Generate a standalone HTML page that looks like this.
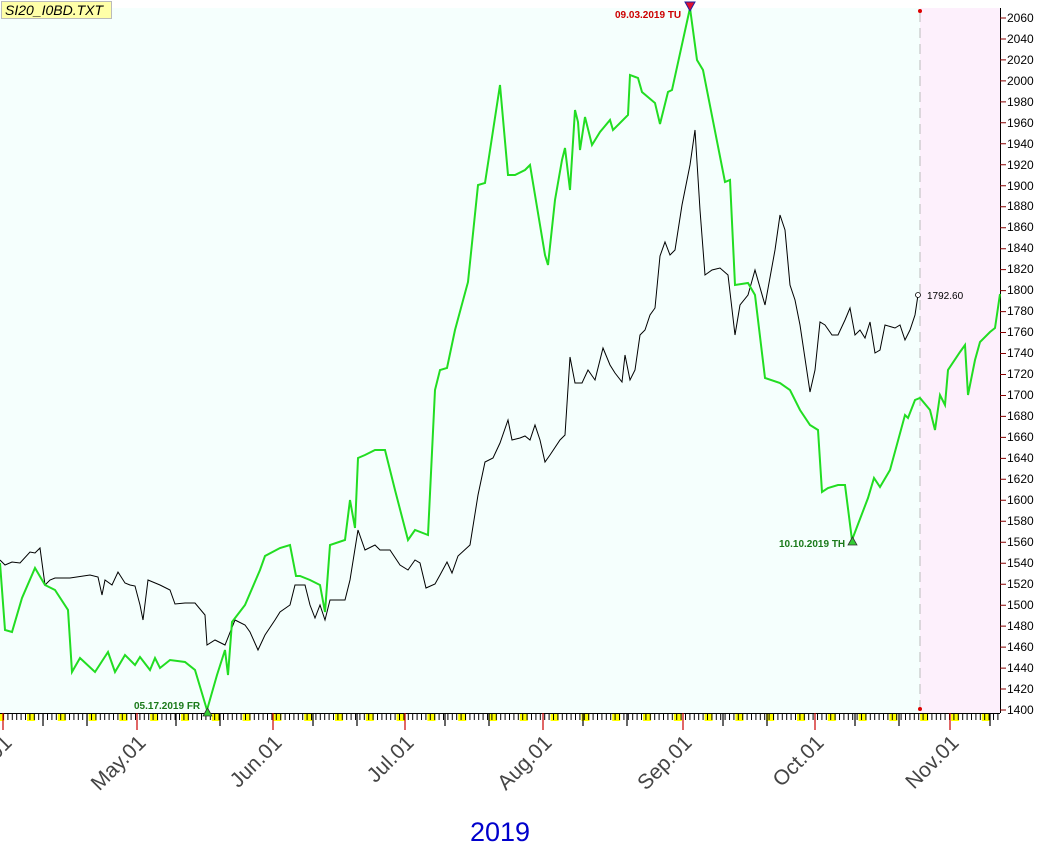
<!DOCTYPE html>
<html><head><style>body{margin:0;background:#fff}svg{display:block}</style></head><body>
<svg width="1063" height="849" xmlns="http://www.w3.org/2000/svg" font-family="Liberation Sans, sans-serif">
<defs>
<pattern id="dt" x="3" y="713" width="4.4" height="10" patternUnits="userSpaceOnUse"><line x1="0.5" y1="0" x2="0.5" y2="7" stroke="#000" stroke-width="1"/></pattern>
<pattern id="we" x="27" y="713" width="30.8" height="10" patternUnits="userSpaceOnUse"><rect x="0" y="1" width="8" height="7" fill="#ffff00"/></pattern>
</defs>
<rect x="0" y="8" width="920" height="705" fill="#f5fffd"/>
<rect x="920" y="8" width="80" height="705" fill="#fdf0fc"/>
<line x1="920" y1="12" x2="920" y2="710" stroke="#bbb" stroke-dasharray="10,6"/>
<circle cx="920" cy="11" r="2" fill="#d00"/><circle cx="920" cy="709" r="2" fill="#d00"/>
<rect x="0" y="713" width="1000" height="8" fill="url(#we)"/>
<rect x="0" y="713" width="1000" height="8" fill="url(#dt)"/>
<line x1="0" y1="713.5" x2="1000" y2="713.5" stroke="#000"/>
<g stroke="#c00" stroke-width="1.2">
<line x1="3" y1="713" x2="3" y2="730"/><line x1="137" y1="713" x2="137" y2="730"/><line x1="273" y1="713" x2="273" y2="730"/><line x1="405" y1="713" x2="405" y2="730"/><line x1="543" y1="713" x2="543" y2="730"/><line x1="683" y1="713" x2="683" y2="730"/><line x1="815" y1="713" x2="815" y2="730"/><line x1="950" y1="713" x2="950" y2="730"/></g>
<g stroke="#000" stroke-width="1.2">
<line x1="43" y1="713" x2="43" y2="726"/><line x1="87" y1="713" x2="87" y2="726"/><line x1="176" y1="713" x2="176" y2="726"/><line x1="220" y1="713" x2="220" y2="726"/><line x1="313" y1="713" x2="313" y2="726"/><line x1="357" y1="713" x2="357" y2="726"/><line x1="445" y1="713" x2="445" y2="726"/><line x1="489" y1="713" x2="489" y2="726"/><line x1="583" y1="713" x2="583" y2="726"/><line x1="627" y1="713" x2="627" y2="726"/><line x1="723" y1="713" x2="723" y2="726"/><line x1="767" y1="713" x2="767" y2="726"/><line x1="855" y1="713" x2="855" y2="726"/><line x1="899" y1="713" x2="899" y2="726"/><line x1="990" y1="713" x2="990" y2="726"/></g>
<g font-size="21" fill="#444" text-anchor="end">
<text transform="translate(13,744) rotate(-45)">Apr.01</text>
<text transform="translate(147,744) rotate(-45)">May.01</text>
<text transform="translate(283,744) rotate(-45)">Jun.01</text>
<text transform="translate(415,744) rotate(-45)">Jul.01</text>
<text transform="translate(553,744) rotate(-45)">Aug.01</text>
<text transform="translate(693,744) rotate(-45)">Sep.01</text>
<text transform="translate(825,744) rotate(-45)">Oct.01</text>
<text transform="translate(960,744) rotate(-45)">Nov.01</text>
</g>
<text x="500" y="841" font-size="27" fill="#0000cc" text-anchor="middle">2019</text>
<line x1="1000.5" y1="8" x2="1000.5" y2="713" stroke="#000"/>
<g stroke="#800" stroke-width="1">
<path d="M1000 710h6M1000 689h6M1000 668.1h6M1000 647.1h6M1000 626.1h6M1000 605.2h6M1000 584.2h6M1000 563.2h6M1000 542.2h6M1000 521.3h6M1000 500.3h6M1000 479.3h6M1000 458.4h6M1000 437.4h6M1000 416.4h6M1000 395.5h6M1000 374.5h6M1000 353.5h6M1000 332.5h6M1000 311.6h6M1000 290.6h6M1000 269.6h6M1000 248.7h6M1000 227.7h6M1000 206.7h6M1000 185.8h6M1000 164.8h6M1000 143.8h6M1000 122.8h6M1000 101.9h6M1000 80.9h6M1000 59.9h6M1000 39h6M1000 18h6"/>
</g>
<g font-size="12" fill="#000">
<text x="1007" y="714">1400</text><text x="1007" y="693">1420</text><text x="1007" y="672">1440</text><text x="1007" y="651">1460</text><text x="1007" y="630">1480</text><text x="1007" y="609">1500</text><text x="1007" y="588">1520</text><text x="1007" y="567">1540</text><text x="1007" y="546">1560</text><text x="1007" y="525">1580</text><text x="1007" y="504">1600</text><text x="1007" y="483">1620</text><text x="1007" y="462">1640</text><text x="1007" y="441">1660</text><text x="1007" y="420">1680</text><text x="1007" y="399">1700</text><text x="1007" y="378">1720</text><text x="1007" y="357">1740</text><text x="1007" y="336">1760</text><text x="1007" y="315">1780</text><text x="1007" y="294">1800</text><text x="1007" y="273">1820</text><text x="1007" y="252">1840</text><text x="1007" y="231">1860</text><text x="1007" y="210">1880</text><text x="1007" y="190">1900</text><text x="1007" y="169">1920</text><text x="1007" y="148">1940</text><text x="1007" y="127">1960</text><text x="1007" y="106">1980</text><text x="1007" y="85">2000</text><text x="1007" y="64">2020</text><text x="1007" y="43">2040</text><text x="1007" y="22">2060</text>
</g>
<polyline fill="none" stroke="#000" stroke-width="1" points="0,560 5,565 12,562 20,563 30,552 35,553 40,548 45,585 50,580 55,578 70,578 90,575 98,577 102,595 105,580 112,585 118,572 125,583 130,585 135,586 140,605 143,620 148,580 160,585 170,590 175,604 185,603 195,603 205,615 207,645 215,640 225,645 235,620 245,625 250,632 258,650 265,635 275,620 280,612 290,605 295,585 305,585 310,605 315,618 320,605 325,620 330,600 345,600 350,580 358,530 365,550 375,545 380,550 390,550 400,565 408,570 415,560 420,563 426,588 435,584 440,575 447,562 452,573 458,556 470,545 478,495 485,462 493,458 500,443 508,420 512,440 520,438 525,436 530,440 535,425 540,440 545,462 550,455 560,440 565,435 570,357 575,383 582,383 588,370 595,380 603,348 610,365 615,373 622,382 625,355 630,380 635,370 640,335 645,330 650,315 655,308 660,256 665,242 670,255 675,250 682,205 690,165 695,130 700,210 705,275 712,270 720,268 728,275 735,335 740,305 748,295 755,270 765,305 775,250 780,215 785,230 790,285 795,300 800,325 810,392 815,370 820,322 825,325 832,335 838,335 845,320 850,308 855,335 860,330 865,338 870,322 875,353 880,350 885,325 895,328 900,325 905,340 910,330 915,315 918,295"/>
<polyline fill="none" stroke="#22dd22" stroke-width="2" points="0,563 5,630 12,632 22,598 35,568 45,585 55,590 68,610 72,672 80,658 95,672 108,652 115,672 125,655 135,665 140,657 150,670 155,658 160,668 170,660 185,662 195,670 207,710 217,675 225,650 228,675 232,622 245,605 260,570 265,556 280,548 290,545 296,576 300,576 310,580 320,585 325,612 330,545 345,540 350,500 355,528 358,458 365,455 375,450 385,450 395,490 408,540 415,530 428,535 435,390 440,370 447,368 455,330 468,282 478,185 485,183 500,85 508,175 515,175 525,170 530,165 545,255 548,265 555,200 562,160 565,148 570,190 575,110 578,122 580,150 585,117 592,145 600,132 610,120 613,130 628,115 630,75 638,78 642,92 655,103 660,124 668,92 672,90 690,8 697,60 703,70 725,182 730,180 735,285 748,283 755,295 765,378 780,383 790,390 800,410 810,425 818,430 822,492 828,488 838,485 845,485 852,540 868,498 874,478 880,487 890,470 905,415 908,418 915,400 920,398 930,410 935,430 940,395 945,405 948,370 960,352 965,345 968,395 975,360 980,342 990,332 995,328 1000,294"/>
<circle cx="918" cy="295" r="2.5" fill="#fff" stroke="#000" stroke-width="0.8"/>
<text x="927" y="299" font-size="10" fill="#000">1792.60</text>
<path d="M685,2 L695,2 L690,11 Z" fill="#e01030" stroke="#2020a0" stroke-width="1"/>
<text x="615" y="18" font-size="10" font-weight="bold" fill="#cc0000">09.03.2019 TU</text>
<path d="M203,716 L212,716 L207.5,708 Z" fill="#33cc33" stroke="#333" stroke-width="0.8"/>
<text x="134" y="709" font-size="10" font-weight="bold" fill="#1a7a1a">05.17.2019 FR</text>
<path d="M848,545 L857,545 L852.5,537 Z" fill="#33cc33" stroke="#333" stroke-width="0.8"/>
<text x="779" y="547" font-size="10" font-weight="bold" fill="#1a7a1a">10.10.2019 TH</text>
<rect x="1.5" y="1.5" width="110" height="17" fill="#ffffa8" stroke="#bbb"/>
<text x="5" y="15" font-size="14" font-style="italic" fill="#000">SI20_I0BD.TXT</text>
</svg>
</body></html>
